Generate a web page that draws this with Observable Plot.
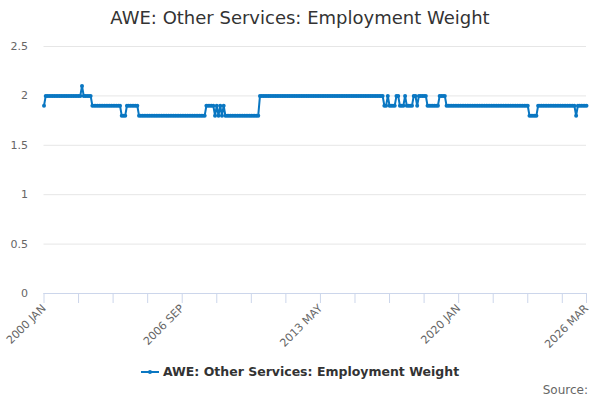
<!DOCTYPE html>
<html>
<head>
<meta charset="utf-8">
<script src="https://cdn.jsdelivr.net/npm/d3@7"></script>
<script src="https://cdn.jsdelivr.net/npm/@observablehq/plot@0.6"></script>
<style>
  html, body { margin: 0; padding: 0; background: #fff; }
  body { width: 600px; height: 400px; overflow: hidden; font-family: "DejaVu Sans", sans-serif; position: relative; }
  #title { height: 36px; line-height: 36px; text-align: center; font-size: 18px; color: #333; }
  #chart svg { display: block; }
  #legend { position: absolute; left: 0; width: 600px; top: 364px; text-align: center; font-size: 12.5px; font-weight: bold; color: #333; }
  #legend svg { vertical-align: middle; margin-right: 4px; position: relative; top: -1px; }
  #source { position: absolute; right: 12px; top: 383px; font-size: 12px; color: #666; }
</style>
</head>
<body>
<div id="title">AWE: Other Services: Employment Weight</div>
<div id="chart"></div>
<div id="legend"><svg width="18" height="10"><line x1="0" y1="5" x2="18" y2="5" stroke="#0a77c2" stroke-width="2"/><circle cx="9" cy="5" r="2" fill="#0a77c2"/></svg>AWE: Other Services: Employment Weight</div>
<div id="source">Source:</div>
<script>
const seriesName = "AWE: Other Services: Employment Weight";
const startYear = 2000;
const monthNames = ["JAN","FEB","MAR","APR","MAY","JUN","JUL","AUG","SEP","OCT","NOV","DEC"];
// monthly values, one row per year (2000 JAN .. 2026 MAR)
const values = [
  1.9,2.0,2.0,2.0,2.0,2.0,2.0,2.0,2.0,2.0,2.0,2.0, // 2000
  2.0,2.0,2.0,2.0,2.0,2.0,2.0,2.0,2.0,2.0,2.1,2.0, // 2001
  2.0,2.0,2.0,2.0,1.9,1.9,1.9,1.9,1.9,1.9,1.9,1.9, // 2002
  1.9,1.9,1.9,1.9,1.9,1.9,1.9,1.9,1.9,1.8,1.8,1.8, // 2003
  1.9,1.9,1.9,1.9,1.9,1.9,1.9,1.8,1.8,1.8,1.8,1.8, // 2004
  1.8,1.8,1.8,1.8,1.8,1.8,1.8,1.8,1.8,1.8,1.8,1.8, // 2005
  1.8,1.8,1.8,1.8,1.8,1.8,1.8,1.8,1.8,1.8,1.8,1.8, // 2006
  1.8,1.8,1.8,1.8,1.8,1.8,1.8,1.8,1.8,1.8,1.9,1.9, // 2007
  1.9,1.9,1.9,1.8,1.9,1.8,1.9,1.8,1.9,1.8,1.8,1.8, // 2008
  1.8,1.8,1.8,1.8,1.8,1.8,1.8,1.8,1.8,1.8,1.8,1.8, // 2009
  1.8,1.8,1.8,1.8,1.8,2.0,2.0,2.0,2.0,2.0,2.0,2.0, // 2010
  2.0,2.0,2.0,2.0,2.0,2.0,2.0,2.0,2.0,2.0,2.0,2.0, // 2011
  2.0,2.0,2.0,2.0,2.0,2.0,2.0,2.0,2.0,2.0,2.0,2.0, // 2012
  2.0,2.0,2.0,2.0,2.0,2.0,2.0,2.0,2.0,2.0,2.0,2.0, // 2013
  2.0,2.0,2.0,2.0,2.0,2.0,2.0,2.0,2.0,2.0,2.0,2.0, // 2014
  2.0,2.0,2.0,2.0,2.0,2.0,2.0,2.0,2.0,2.0,2.0,2.0, // 2015
  2.0,2.0,2.0,2.0,2.0,1.9,1.9,2.0,1.9,1.9,1.9,1.9, // 2016
  2.0,2.0,1.9,1.9,1.9,2.0,1.9,1.9,1.9,1.9,2.0,2.0, // 2017
  1.9,2.0,2.0,2.0,2.0,2.0,1.9,1.9,1.9,1.9,1.9,1.9, // 2018
  1.9,2.0,2.0,2.0,2.0,1.9,1.9,1.9,1.9,1.9,1.9,1.9, // 2019
  1.9,1.9,1.9,1.9,1.9,1.9,1.9,1.9,1.9,1.9,1.9,1.9, // 2020
  1.9,1.9,1.9,1.9,1.9,1.9,1.9,1.9,1.9,1.9,1.9,1.9, // 2021
  1.9,1.9,1.9,1.9,1.9,1.9,1.9,1.9,1.9,1.9,1.9,1.9, // 2022
  1.9,1.9,1.9,1.9,1.9,1.8,1.8,1.8,1.8,1.8,1.9,1.9, // 2023
  1.9,1.9,1.9,1.9,1.9,1.9,1.9,1.9,1.9,1.9,1.9,1.9, // 2024
  1.9,1.9,1.9,1.9,1.9,1.9,1.9,1.9,1.8,1.9,1.9,1.9, // 2025
  1.9,1.9,1.9                                      // 2026
];
const yTicks = [0, 0.5, 1, 1.5, 2, 2.5];
const xTickIdx = [0,20,40,60,80,100,120,140,160,180,200,220,240,260,280,300,314];
const xTickLabels = ["2000 JAN","2006 SEP","2013 MAY","2020 JAN","2026 MAR"];

const labelFor = i => startYear + Math.floor(i / 12) + " " + monthNames[i % 12];
const data = values.map((v, i) => ({i, label: labelFor(i), value: v}));
const color = "#0a77c2";

const chart = Plot.plot({
  width: 600,
  height: 320,
  marginTop: 10,
  marginBottom: 63,
  marginLeft: 43.5,
  marginRight: 14,
  style: {fontFamily: "DejaVu Sans, sans-serif", fontSize: "11px", color: "#666", background: "#fff"},
  x: {type: "linear", domain: [0, values.length - 1]},
  y: {domain: [0, 2.5]},
  marks: [
    Plot.gridY(yTicks, {stroke: "#e6e6e6", strokeOpacity: 1}),
    Plot.axisY(yTicks, {tickSize: 0, tickPadding: 16, fill: "#666", fontSize: 11, tickFormat: d => String(d), label: null}),
    Plot.ruleY([0], {stroke: "#ccd6eb"}),
    Plot.axisX(xTickIdx, {
      tickSize: 10, stroke: "#ccd6eb", strokeOpacity: 1, tickPadding: 3, tickRotate: -45,
      fill: "#666", fontSize: 11, label: null,
      tickFormat: i => xTickLabels.includes(labelFor(i)) ? labelFor(i) : ""
    }),
    Plot.line(data, {x: "i", y: "value", stroke: color, strokeWidth: 2}),
    Plot.dot(data, {x: "i", y: "value", fill: color, r: 2, stroke: null})
  ]
});
document.getElementById("chart").appendChild(chart);
</script>
</body>
</html>
